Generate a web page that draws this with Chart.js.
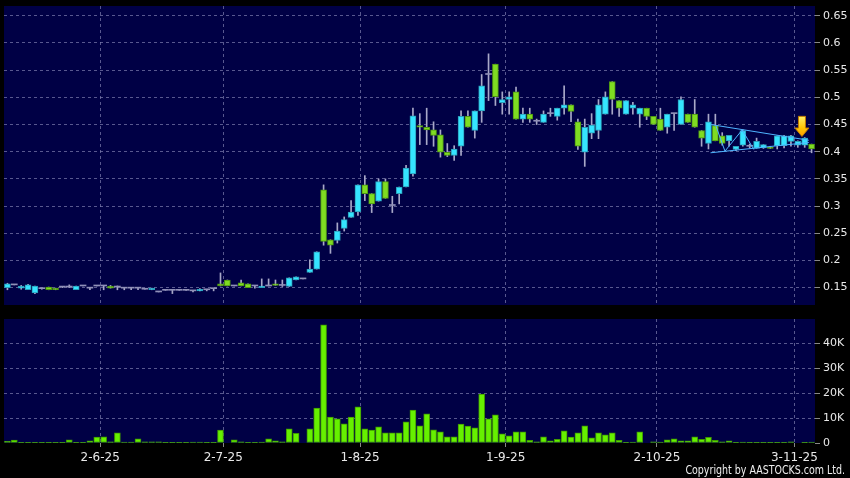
<!DOCTYPE html>
<html>
<head>
<meta charset="utf-8">
<script src="https://cdn.jsdelivr.net/npm/chart.js@4.4.1/dist/chart.umd.min.js"></script>
<style>
  html, body { margin:0; padding:0; background:#000; }
  #wrap { position:relative; width:850px; height:478px; overflow:hidden; background:#000; }
  #priceChart { position:absolute; left:0; top:0; }
  #volChart { position:absolute; left:0; top:312px; }
  #copy { position:absolute; right:5px; top:463px; font:12px 'DejaVu Sans',sans-serif; color:#eee; white-space:nowrap; transform:scaleX(0.79); transform-origin:right top; }
</style>
</head>
<body>
<div id="wrap">
  <canvas id="priceChart" width="850" height="312"></canvas>
  <canvas id="volChart" width="850" height="166"></canvas>
  <div id="copy">Copyright by AASTOCKS.com Ltd.</div>
</div>
<script>
// daily candles (index 0 = first bar on the left)
const opens = [
  0.150,0.155,0.149,0.146,0.140,0.148,0.151,0.149,0.151,0.151,
  0.146,0.153,0.149,0.153,0.153,0.153,0.151,0.149,0.149,0.149,
  0.147,0.146,0.142,0.145,0.145,0.145,0.145,0.144,0.144,0.146,
  0.148,0.157,0.164,0.153,0.159,0.157,0.153,0.150,0.153,0.157,
  0.154,0.152,0.164,0.166,0.178,0.184,0.330,0.238,0.237,0.259,
  0.279,0.289,0.339,0.323,0.309,0.345,0.301,0.323,0.335,0.359,
  0.448,0.445,0.440,0.431,0.399,0.393,0.410,0.465,0.439,0.475,
  0.542,0.561,0.490,0.496,0.510,0.460,0.469,0.456,0.454,0.470,
  0.465,0.480,0.486,0.455,0.399,0.434,0.439,0.469,0.529,0.494,
  0.469,0.480,0.469,0.480,0.465,0.460,0.445,0.470,0.450,0.469,
  0.469,0.439,0.415,0.448,0.429,0.420,0.404,0.412,0.410,0.406,
  0.407,0.408,0.411,0.411,0.419,0.412,0.412,0.414
];
const highs = [
  0.158,0.156,0.154,0.156,0.153,0.149,0.151,0.149,0.151,0.155,
  0.153,0.153,0.149,0.153,0.153,0.154,0.153,0.149,0.149,0.149,
  0.147,0.149,0.142,0.145,0.145,0.145,0.145,0.144,0.148,0.146,
  0.148,0.177,0.164,0.153,0.164,0.157,0.153,0.166,0.166,0.164,
  0.164,0.168,0.170,0.166,0.201,0.216,0.339,0.238,0.269,0.280,
  0.310,0.339,0.356,0.323,0.350,0.350,0.318,0.335,0.375,0.480,
  0.470,0.480,0.455,0.440,0.415,0.411,0.475,0.475,0.475,0.542,
  0.580,0.561,0.510,0.510,0.519,0.480,0.480,0.460,0.475,0.480,
  0.480,0.521,0.486,0.460,0.460,0.470,0.496,0.510,0.529,0.494,
  0.494,0.491,0.480,0.480,0.465,0.480,0.469,0.470,0.501,0.469,
  0.496,0.439,0.469,0.469,0.435,0.430,0.410,0.440,0.414,0.425,
  0.413,0.410,0.429,0.430,0.430,0.420,0.426,0.414
];
const lows = [
  0.146,0.155,0.147,0.146,0.139,0.147,0.146,0.146,0.150,0.150,
  0.146,0.153,0.146,0.153,0.146,0.149,0.146,0.146,0.146,0.146,
  0.147,0.146,0.142,0.145,0.139,0.145,0.145,0.142,0.144,0.144,
  0.144,0.153,0.153,0.153,0.153,0.150,0.149,0.150,0.153,0.154,
  0.152,0.152,0.164,0.166,0.178,0.184,0.228,0.213,0.232,0.254,
  0.279,0.283,0.310,0.288,0.309,0.314,0.288,0.304,0.335,0.355,
  0.413,0.413,0.410,0.390,0.391,0.384,0.393,0.445,0.425,0.454,
  0.494,0.485,0.469,0.469,0.460,0.454,0.454,0.450,0.454,0.465,
  0.458,0.469,0.455,0.404,0.373,0.424,0.424,0.469,0.469,0.465,
  0.469,0.469,0.445,0.459,0.450,0.439,0.434,0.439,0.450,0.454,
  0.445,0.410,0.405,0.420,0.412,0.410,0.402,0.410,0.407,0.406,
  0.406,0.406,0.405,0.407,0.410,0.408,0.408,0.398
];
const closes = [
  0.157,0.155,0.153,0.155,0.153,0.148,0.146,0.146,0.151,0.151,
  0.153,0.153,0.149,0.153,0.153,0.149,0.151,0.149,0.149,0.149,
  0.147,0.149,0.142,0.145,0.145,0.145,0.145,0.144,0.147,0.146,
  0.148,0.153,0.153,0.153,0.153,0.150,0.153,0.153,0.153,0.154,
  0.154,0.168,0.170,0.166,0.184,0.216,0.235,0.228,0.254,0.275,
  0.289,0.339,0.323,0.304,0.345,0.314,0.301,0.335,0.370,0.466,
  0.445,0.440,0.430,0.399,0.393,0.405,0.465,0.445,0.475,0.521,
  0.542,0.501,0.496,0.501,0.460,0.469,0.460,0.456,0.469,0.470,
  0.480,0.486,0.474,0.410,0.445,0.449,0.486,0.501,0.496,0.480,
  0.494,0.486,0.480,0.465,0.450,0.439,0.469,0.470,0.496,0.454,
  0.445,0.425,0.455,0.420,0.415,0.430,0.410,0.439,0.410,0.419,
  0.413,0.406,0.429,0.429,0.429,0.419,0.425,0.405
];
// volume in thousands of shares
const volumes = [
  0.7,1.2,0.1,0.1,0.3,0.1,0.1,0.1,0.1,1.3,
  0.1,0.1,0.9,2.4,2.5,0.5,4.1,0.4,0.4,1.7,
  0.5,0.5,0.5,0.1,0.3,0.1,0.1,0.4,0.4,0.1,
  0.1,5.2,0.2,1.3,0.5,0.1,0.3,0.4,1.7,0.9,
  0.5,5.7,3.9,0,5.7,14,47.3,10.4,9.7,7.7,
  10.4,14.5,5.7,5.2,6.5,4.1,4.1,4.1,8.5,13.2,
  6.9,11.7,5.3,4.5,2.5,2.5,7.6,6.8,6.1,19.6,
  9.7,11.3,3.7,2.9,4.5,4.5,1.1,0.5,2.5,0.9,
  1.5,4.9,2.4,4.1,6.9,2.1,4.1,3.3,4.1,1.1,
  0.1,0.4,4.5,0,0.5,0.4,1.3,1.7,0.9,0.9,
  2.5,1.5,2.3,1.1,0.5,0.9,0.3,0.4,0.1,0.1,
  0.1,0.1,0.1,0.1,0.5,0.2,0.1,0.4
];

// month marks sit between bars
const xTickAt = [13.5, 31.4, 51.3, 72.5, 94.5, 114.5];
const xTickLabels = ['2-6-25', '2-7-25', '1-8-25', '1-9-25', '2-10-25', '3-11-25'];
const priceTicks = [0.15, 0.2, 0.25, 0.3, 0.35, 0.4, 0.45, 0.5, 0.55, 0.6, 0.65];
const volTicks = [0, 10, 20, 30, 40];
const volTickLabels = ['0', '10K', '20K', '30K', '40K'];

// triangle drawn on the right end, in (bar index, price)
const upperLine = [{x:102.3, y:0.450}, {x:116.6, y:0.421}];
const lowerLine = [{x:102.3, y:0.398}, {x:116.6, y:0.417}];
const zigzag = [{x:103.1, y:0.447}, {x:104.4, y:0.401}, {x:106.9, y:0.440}, {x:108.6, y:0.404}];
const arrowMark = {x:115.6, top:0.465, tip:0.428};

const NAVY = '#000045';
const GRID = 'rgba(125,125,175,0.7)';
const TEXT = '#e8e8e8';
const UP = '#35e4ff', UP_EDGE = '#2a9db8';
const DOWN = '#7fdc22', DOWN_EDGE = '#4d9612';
const FLAT = '#9090b8';
const WICK = '#a8a8c8';

Chart.defaults.font.family = "'DejaVu Sans', sans-serif";
Chart.defaults.color = TEXT;
Chart.defaults.animation = false;

function kind(i){
  if(closes[i] > opens[i]) return 'up';
  if(closes[i] < opens[i]) return 'down';
  return 'flat';
}

const plotBg = {
  id:'plotBg',
  beforeDraw(chart){
    const {ctx, chartArea:a} = chart;
    ctx.save();
    ctx.fillStyle = NAVY;
    ctx.fillRect(a.left, a.top, a.right - a.left, a.bottom - a.top);
    ctx.restore();
  }
};

const arrowPlugin = {
  id:'arrowMark',
  afterDatasetsDraw(chart){
    const {ctx} = chart;
    const xs = chart.scales.x, ys = chart.scales.y;
    const x = xs.getPixelForValue(arrowMark.x);
    const yTop = ys.getPixelForValue(arrowMark.top);
    const yTip = ys.getPixelForValue(arrowMark.tip);
    const headY = yTip - (yTip - yTop) * 0.42;
    ctx.save();
    const g = ctx.createLinearGradient(0, yTop, 0, yTip);
    g.addColorStop(0, '#fff066');
    g.addColorStop(0.6, '#ffc400');
    g.addColorStop(1, '#ff9a00');
    ctx.fillStyle = g;
    ctx.strokeStyle = '#c07a00';
    ctx.lineWidth = 1;
    ctx.beginPath();
    ctx.moveTo(x - 3.5, yTop);
    ctx.lineTo(x + 3.5, yTop);
    ctx.lineTo(x + 3.5, headY);
    ctx.lineTo(x + 7, headY);
    ctx.lineTo(x, yTip);
    ctx.lineTo(x - 7, headY);
    ctx.lineTo(x - 3.5, headY);
    ctx.closePath();
    ctx.fill();
    ctx.stroke();
    ctx.restore();
  }
};

// y axes: fixed width, and no extra room kept for half a label above/below
function fixY(s){
  s.width = 35;
  s.paddingTop = 0;
  s.paddingBottom = 0;
}

function xAxis(showLabels){
  return {
    type:'linear', min:-0.5, max:117.5, offset:false,
    afterBuildTicks: s => { s.ticks = xTickAt.map(v => ({value:v})); },
    afterFit: s => { s.height = showLabels ? 35 : 0; },
    ticks:{
      display: showLabels, autoSkip:false, maxRotation:0, padding:4,
      font:{size:12}, color:TEXT,
      callback:(v, i) => xTickLabels[i]
    },
    grid:{ offset:false, color:GRID, drawTicks: showLabels, tickLength:4, tickColor:'#888' },
    border:{ display:false, dash:[3,3] }
  };
}

new Chart(document.getElementById('priceChart'), {
  type:'bar',
  data:{
    datasets:[
      {
        type:'line', data:upperLine, borderColor:'#4fb4ff', borderWidth:1,
        pointRadius:0, order:0
      },
      {
        type:'line', data:lowerLine, borderColor:'#4fb4ff', borderWidth:1,
        pointRadius:0, order:0
      },
      {
        type:'line', data:zigzag, borderColor:'#4fb4ff', borderWidth:1,
        pointRadius:0, order:0
      },
      {
        label:'body', grouped:false, order:1, barThickness:6, minBarLength:1,
        data: opens.map((o, i) => ({x:i, y:[o, closes[i]]})),
        backgroundColor: c => { const k = kind(c.dataIndex); return k === 'up' ? UP : k === 'down' ? DOWN : FLAT; },
        borderColor: c => { const k = kind(c.dataIndex); return k === 'up' ? UP_EDGE : DOWN_EDGE; },
        borderWidth: c => kind(c.dataIndex) === 'flat' ? 0 : 1,
        borderSkipped:false
      },
      {
        label:'wick', grouped:false, order:2, barThickness:1,
        data: lows.map((l, i) => ({x:i, y:[l, highs[i]]})),
        backgroundColor: WICK, borderWidth:0
      }
    ]
  },
  plugins:[plotBg, arrowPlugin],
  options:{
    responsive:false,
    layout:{ padding:{ left:4, top:6, right:0, bottom:7 } },
    plugins:{ legend:{display:false}, tooltip:{enabled:false} },
    scales:{
      x: xAxis(false),
      y:{
        position:'right', min:0.118, max:0.668,
        afterBuildTicks: s => { s.ticks = priceTicks.map(v => ({value:v})); },
        afterFit: fixY,
        ticks:{ font:{size:11}, color:TEXT, padding:3, callback: v => String(v) },
        grid:{ color:GRID, tickLength:5, tickColor:'#888' },
        border:{ display:false, dash:[3,3] }
      }
    }
  }
});

new Chart(document.getElementById('volChart'), {
  type:'bar',
  data:{
    datasets:[{
      label:'volume', barThickness:6,
      data: volumes.map((v, i) => ({x:i, y:v})),
      backgroundColor:'#66f000', borderColor:'#3f9800', borderWidth:1, borderSkipped:false
    }]
  },
  plugins:[plotBg],
  options:{
    responsive:false,
    layout:{ padding:{ left:4, top:7, right:0, bottom:0 } },
    plugins:{ legend:{display:false}, tooltip:{enabled:false} },
    scales:{
      x: xAxis(true),
      y:{
        position:'right', min:0, max:49.6,
        afterBuildTicks: s => { s.ticks = volTicks.map(v => ({value:v})); },
        afterFit: fixY,
        ticks:{ font:{size:11}, color:TEXT, padding:3, callback:(v, i) => volTickLabels[i] },
        grid:{ color: c => c.index === 0 ? 'rgba(0,0,0,0)' : GRID, tickLength:5, tickColor:'#888' },
        border:{ display:false, dash:[3,3] }
      }
    }
  }
});
</script>
</body>
</html>
